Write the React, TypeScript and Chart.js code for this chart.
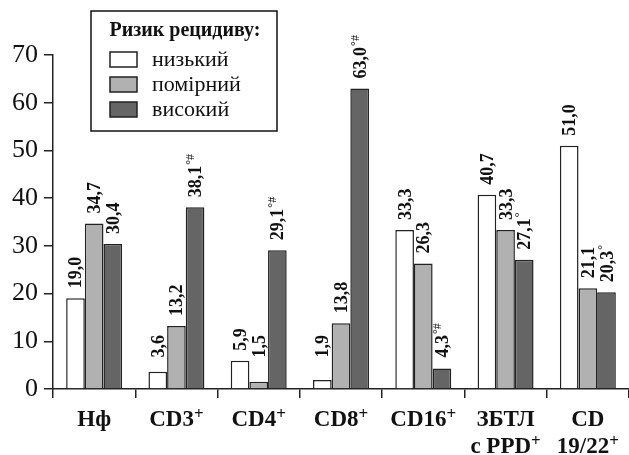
import React, { useEffect, useRef } from "react";
import { Chart, registerables } from "chart.js";

Chart.register(...registerables);

const categories: string[][] = [["Нф"], ["CD3+"], ["CD4+"], ["CD8+"], ["CD16+"], ["ЗБТЛ", "с PPD+"], ["CD", "19/22+"]];
const seriesNames = ["низький", "помірний", "високий"];
const lowRisk = [19.0, 3.6, 5.9, 1.9, 33.3, 40.7, 51.0];
const midRisk = [34.7, 13.2, 1.5, 13.8, 26.3, 33.3, 21.1];
const highRisk = [30.4, 38.1, 29.1, 63.0, 4.3, 27.1, 20.3];
const highMarks = ["", "°#", "°#", "°#", "°#", "°", "°"];
const legendTitle = "Ризик рецидиву:";
const yTicks = [0, 10, 20, 30, 40, 50, 60, 70];

const colors = ["#ffffff", "#b1b1b1", "#656565"];
const SERIF = "'Liberation Serif', 'Times New Roman', serif";

const fmt = (v: number) => v.toFixed(1).replace(".", ",");

const drawPlugin = {
  id: "customDraw",
  afterDatasetsDraw(chart: any) {
    const ctx = chart.ctx as CanvasRenderingContext2D;
    const yScale = chart.scales.y;
    const xScale = chart.scales.x;
    const floorPx = yScale.getPixelForValue(6.6);
    ctx.save();
    ctx.fillStyle = "#111";
    // value labels
    chart.data.datasets.forEach((ds: any, di: number) => {
      const meta = chart.getDatasetMeta(di);
      meta.data.forEach((bar: any, i: number) => {
        const v = ds.data[i];
        const text = fmt(v);
        const sup = di === 2 ? highMarks[i] : "";
        const yb = Math.min(bar.y - 10, floorPx);
        ctx.save();
        ctx.translate(bar.x, yb);
        ctx.rotate(-Math.PI / 2);
        ctx.font = `bold 18px ${SERIF}`;
        ctx.textAlign = "left";
        ctx.textBaseline = "alphabetic";
        ctx.fillText(text, 0, 6);
        if (sup) {
          const w = ctx.measureText(text).width;
          ctx.font = `12px ${SERIF}`;
          ctx.fillText(sup, w + 1, -1);
        }
        ctx.restore();
      });
    });
    // category labels
    categories.forEach((lines, i) => {
      const cx = xScale.getPixelForValue(i);
      lines.forEach((line, li) => {
        const hasSup = line.endsWith("+");
        const main = hasSup ? line.slice(0, -1) : line;
        ctx.font = `bold 23px ${SERIF}`;
        const w1 = ctx.measureText(main).width;
        ctx.font = `bold 17px ${SERIF}`;
        const w2 = hasSup ? ctx.measureText("+").width : 0;
        const total = w1 + w2;
        const x0 = cx - total / 2;
        const base = 426 + li * 27;
        ctx.textAlign = "left";
        ctx.textBaseline = "alphabetic";
        ctx.font = `bold 23px ${SERIF}`;
        ctx.fillText(main, x0, base);
        if (hasSup) {
          ctx.font = `bold 17px ${SERIF}`;
          ctx.fillText("+", x0 + w1, base - 7);
        }
      });
    });
    // legend
    ctx.lineWidth = 1.5;
    ctx.strokeStyle = "#111";
    ctx.fillStyle = "#fff";
    ctx.fillRect(91, 11, 186, 120);
    ctx.strokeRect(91, 11, 186, 120);
    ctx.fillStyle = "#111";
    ctx.font = `bold 20px ${SERIF}`;
    ctx.textAlign = "center";
    ctx.fillText(legendTitle, 185, 36);
    seriesNames.forEach((name, i) => {
      const y = 52 + i * 25;
      ctx.fillStyle = colors[i];
      ctx.fillRect(110, y, 27, 15);
      ctx.strokeStyle = "#222";
      ctx.strokeRect(110, y, 27, 15);
      ctx.fillStyle = "#111";
      ctx.font = `22px ${SERIF}`;
      ctx.textAlign = "left";
      ctx.fillText(name, 152, y + 14);
    });
    ctx.restore();
  },
};

export default function App() {
  const ref = useRef<HTMLCanvasElement>(null);
  useEffect(() => {
    if (!ref.current) return;
    const chart = new Chart(ref.current, {
      type: "bar",
      data: {
        labels: categories.map((c) => c.join(" ")),
        datasets: [lowRisk, midRisk, highRisk].map((d, i) => ({
          label: seriesNames[i],
          data: d,
          backgroundColor: colors[i],
          borderColor: "#222",
          borderWidth: 1.5,
          categoryPercentage: 0.68,
          barPercentage: 1.0,
        })),
      },
      options: {
        responsive: false,
        animation: false,
        layout: { padding: { top: 55, left: 0, right: 0, bottom: 0 } },
        plugins: { legend: { display: false }, tooltip: { enabled: false } },
        scales: {
          x: {
            grid: {
              display: true,
              drawOnChartArea: false,
              drawTicks: true,
              tickLength: 9,
              color: "#222",
              lineWidth: 1.5,
              offset: true,
            },
            border: { display: true, color: "#222", width: 1.5 },
            ticks: { display: false },
            afterFit: (s: any) => {
              s.height = 66;
            },
          },
          y: {
            min: 0,
            max: 70,
            afterBuildTicks: (s: any) => {
              s.ticks = yTicks.map((v) => ({ value: v }));
            },
            grid: {
              display: true,
              drawOnChartArea: false,
              drawTicks: true,
              tickLength: 9,
              color: "#222",
              lineWidth: 1.5,
            },
            border: { display: true, color: "#222", width: 1.5 },
            ticks: {
              color: "#111",
              padding: 6,
              font: { family: SERIF, size: 26 },
            },
            afterFit: (s: any) => {
              s.width = 53;
            },
          },
        },
      },
      plugins: [drawPlugin],
    });
    return () => chart.destroy();
  }, []);
  return (
    <div style={{ position: "absolute", left: 0, top: 0, width: 629, height: 455, background: "#fff" }}>
      <canvas ref={ref} width={629} height={455} style={{ width: 629, height: 455, display: "block" }} />
    </div>
  );
}
